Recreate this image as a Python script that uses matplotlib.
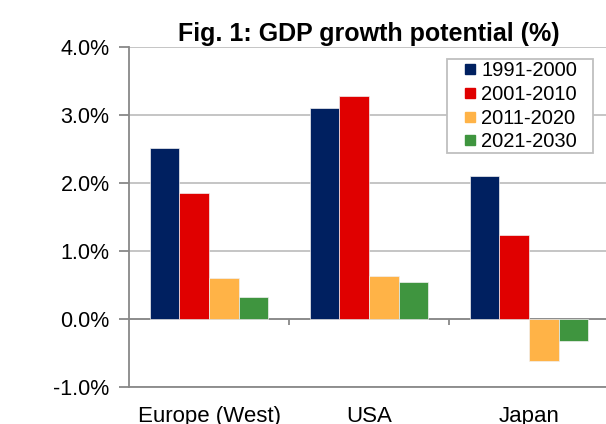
import numpy as np
import matplotlib.pyplot as plt
from matplotlib.lines import Line2D
from matplotlib.patches import Rectangle

plt.rcParams['font.family'] = ['Liberation Sans', 'DejaVu Sans']

regions = ['Europe (West)', 'USA', 'Japan']
periods = ['1991-2000', '2001-2010', '2011-2020', '2021-2030']
g_1991 = [2.51, 3.11, 2.10]
g_2001 = [1.85, 3.28, 1.24]
g_2011 = [0.60, 0.63, -0.62]
g_2021 = [0.32, 0.54, -0.32]
colors = ['#002060', '#E00000', '#FFB347', '#3F953F']

fig = plt.figure(figsize=(6.06, 4.24), dpi=100)
ax = fig.add_axes([0.2129, 0.0873, 0.7921, 0.8018])

x = np.arange(len(regions))
w = 0.185
series = [g_1991, g_2001, g_2011, g_2021]
for i, (vals, c, lab) in enumerate(zip(series, colors, periods)):
    ax.bar(x + (i - 1.5) * w, vals, w, color=c, edgecolor='#F0F0F0',
           linewidth=0.5, label=lab, zorder=3)

ax.set_xlim(-0.5, 2.5)
ax.set_ylim(-1.0, 4.0)
yt = np.arange(-1.0, 4.01, 1.0)
ax.set_yticks(yt)
ax.set_yticklabels([f'{v:.1f}%' for v in yt])
ax.yaxis.grid(True, color='#C0C0C0', linewidth=1.3, zorder=0)
ax.set_axisbelow(True)

for s in ['top', 'right']:
    ax.spines[s].set_visible(False)
for s in ['left', 'bottom']:
    ax.spines[s].set_color('#888888')
    ax.spines[s].set_linewidth(1.3)

# category axis sits on zero
ax.axhline(0, color='#888888', linewidth=1.3, zorder=2)
ax.vlines([0.5, 1.5], -0.09, 0, color='#888888', linewidth=1.3, zorder=2)

ax.set_xticks(x)
ax.set_xticklabels(regions)
ax.tick_params(axis='x', length=0, pad=14, labelsize=16)
ax.tick_params(axis='y', length=7, width=1.3, color='#888888', labelsize=15.5, pad=7)

ax.set_title('Fig. 1: GDP growth potential (%)', fontsize=18, fontweight='bold', pad=4)

handles = [Line2D([], [], marker='s', linestyle='none', markersize=7.2,
                  markerfacecolor=c, markeredgecolor=c) for c in colors]
leg = ax.legend(handles, periods, loc='upper left', bbox_to_anchor=(0.70, 0.959),
                fontsize=14.5, frameon=False, handlelength=0.5, handletextpad=0.3,
                labelspacing=0.24, borderpad=0, borderaxespad=0)
leg.set_zorder(6)

# legend frame with wider side padding
fig.canvas.draw()
bb = leg.get_window_extent()
inv = fig.transFigure.inverted()
(x0, y0), (x1, y1) = inv.transform([[bb.x0 - 18, bb.y0 - 2], [bb.x1 + 16, bb.y1 + 2]])
ax.add_patch(Rectangle((x0, y0), x1 - x0, y1 - y0, transform=fig.transFigure,
                       facecolor='white', edgecolor='#BFBFBF', linewidth=1.3, zorder=5))

fig.savefig('out.png', dpi=100)
